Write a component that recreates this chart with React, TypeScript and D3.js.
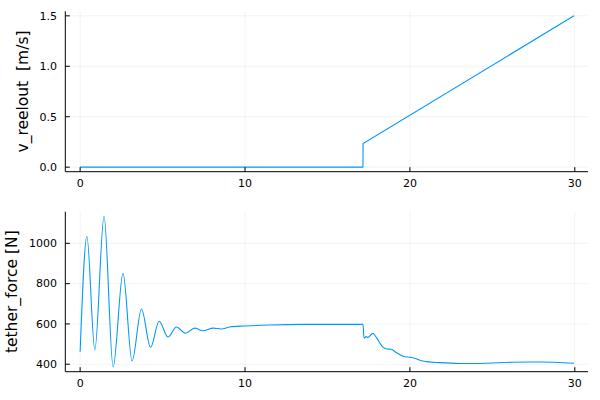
import React from "react";
import * as d3 from "d3";

const reelTime = [0, 17.15, 17.16, 29.95];
const reelSpeed = [0, 0, 0.235, 1.5];

const forceTime = [
  0, 0.41, 0.89, 1.45, 2.0, 2.6, 3.15, 3.72, 4.27, 4.79, 5.33, 5.84, 6.39, 6.95, 7.45,
  8.06, 8.57, 9.07, 10.0, 11.5, 13.5, 17.15, 17.22, 17.35, 17.45, 17.76, 17.95, 18.36,
  18.6, 18.87, 19.1, 19.58, 20.08, 20.3, 20.7, 21.0, 21.8, 23.0, 24.2, 26.2, 27.9, 29.95,
];
const forceValue = [
  462, 1034, 471, 1135, 386, 851, 416, 674, 484, 613, 535, 585, 554, 579, 566,
  579, 575, 585, 590, 595, 598, 598, 529, 537, 533, 553, 535, 485,
  476, 474, 462, 440, 434, 430, 417, 413, 408, 404, 404, 410, 411, 405,
];

const xTicks = [0, 10, 20, 30];
const topYTicks = [0, 0.5, 1.0, 1.5];
const topYLabels = ["0.0", "0.5", "1.0", "1.5"];
const botYTicks = [400, 600, 800, 1000];
const botYLabels = ["400", "600", "800", "1000"];

const FONT = "DejaVu Sans, sans-serif";
const BLUE = "#009AFA";

type PanelProps = {
  top: number;
  bottom: number;
  yDomain: [number, number];
  yTicks: number[];
  yLabels: string[];
  title: string;
  titleX: number;
  xs: number[];
  ys: number[];
  curve: d3.CurveFactory;
};

const LEFT = 65.3;
const RIGHT = 588;

function Panel(p: PanelProps) {
  const x = d3.scaleLinear().domain([-0.9, 30.8]).range([LEFT, RIGHT]);
  const y = d3.scaleLinear().domain(p.yDomain).range([p.bottom, p.top]);
  const pts: [number, number][] = p.xs.map((t, i) => [t, p.ys[i]]);
  const line = d3
    .line<[number, number]>()
    .x((d) => x(d[0]))
    .y((d) => y(d[1]))
    .curve(p.curve);
  const mid = (p.top + p.bottom) / 2;
  return (
    <g>
      {xTicks.map((t) => (
        <line key={"gx" + t} x1={x(t)} x2={x(t)} y1={p.top} y2={p.bottom} stroke="#000" strokeOpacity={0.1} strokeWidth={0.5} />
      ))}
      {p.yTicks.map((t) => (
        <line key={"gy" + t} x1={LEFT} x2={RIGHT} y1={y(t)} y2={y(t)} stroke="#000" strokeOpacity={0.1} strokeWidth={0.5} />
      ))}
      <path d={line(pts) || ""} fill="none" stroke={BLUE} strokeWidth={1.1} />
      <line x1={LEFT} x2={RIGHT} y1={p.bottom} y2={p.bottom} stroke="#000" strokeWidth={1} />
      <line x1={LEFT} x2={LEFT} y1={p.top} y2={p.bottom} stroke="#000" strokeWidth={1} />
      {xTicks.map((t) => (
        <g key={"tx" + t}>
          <line x1={x(t)} x2={x(t)} y1={p.bottom} y2={p.bottom - 4.5} stroke="#000" strokeWidth={1} />
          <text x={x(t)} y={p.bottom + 15} textAnchor="middle" fontSize={11} fontFamily={FONT} fill="#000">
            {t}
          </text>
        </g>
      ))}
      {p.yTicks.map((t, i) => (
        <g key={"ty" + t}>
          <line x1={LEFT} x2={LEFT + 4.5} y1={y(t)} y2={y(t)} stroke="#000" strokeWidth={1} />
          <text x={57} y={y(t)} dy="0.35em" textAnchor="end" fontSize={11} fontFamily={FONT} fill="#000">
            {p.yLabels[i]}
          </text>
        </g>
      ))}
      <text
        transform={`translate(${p.titleX},${mid}) rotate(-90)`}
        textAnchor="middle"
        fontSize={15.5}
        fontFamily={FONT}
        fill="#000"
        style={{ whiteSpace: "pre" }}
      >
        {p.title}
      </text>
    </g>
  );
}

export default function App() {
  return (
    <svg width={600} height={400} style={{ position: "absolute", left: 0, top: 0, background: "#fff" }}>
      <rect width={600} height={400} fill="#fff" />
      <Panel
        top={11.3}
        bottom={171.7}
        yDomain={[-0.045, 1.545]}
        yTicks={topYTicks}
        yLabels={topYLabels}
        title={"v_reelout  [m/s]"}
        titleX={28}
        xs={reelTime}
        ys={reelSpeed}
        curve={d3.curveLinear}
      />
      <Panel
        top={211.7}
        bottom={371.7}
        yDomain={[363, 1157]}
        yTicks={botYTicks}
        yLabels={botYLabels}
        title={"tether_force [N]"}
        titleX={16.5}
        xs={forceTime}
        ys={forceValue}
        curve={d3.curveMonotoneX}
      />
    </svg>
  );
}
